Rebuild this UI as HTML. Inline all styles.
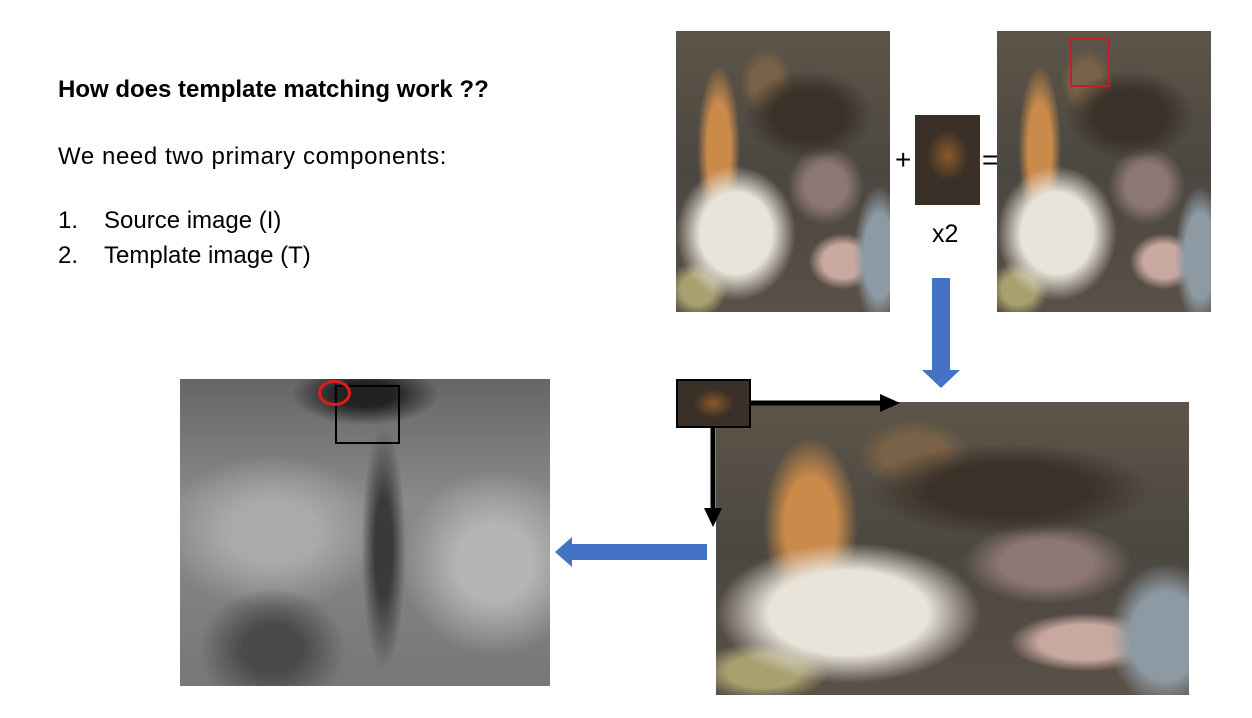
<!DOCTYPE html>
<html><head><style>
body{margin:0;width:1252px;height:718px;background:#fff;position:relative;overflow:hidden;font-family:"Liberation Sans",Calibri,sans-serif;color:#000}
.t{position:absolute;font-size:24px;white-space:nowrap}
.ph{position:absolute;background:
radial-gradient(ellipse 28% 24% at 28% 72%,#e9e4da 0 60%,rgba(233,228,218,0) 100%),
radial-gradient(ellipse 10% 30% at 20% 42%,#c98a4a 0 55%,rgba(201,138,74,0) 100%),
radial-gradient(ellipse 30% 16% at 62% 30%,#3a3128 0 55%,rgba(58,49,40,0) 100%),
radial-gradient(ellipse 12% 12% at 42% 18%,#7a6248 0 55%,rgba(122,98,72,0) 100%),
radial-gradient(ellipse 12% 25% at 95% 80%,#8d9aa3 0 60%,rgba(141,154,163,0) 100%),
radial-gradient(ellipse 16% 10% at 78% 82%,#c9a8a0 0 60%,rgba(201,168,160,0) 100%),
radial-gradient(ellipse 18% 14% at 70% 55%,#8c7772 0 55%,rgba(140,119,114,0) 100%),
radial-gradient(ellipse 14% 10% at 10% 92%,#a9a070 0 55%,rgba(169,160,112,0) 100%),
linear-gradient(180deg,#5d5548,#4b4741 50%,#5a5046);}
.gray{position:absolute;left:180px;top:379px;width:370px;height:307px;background:
radial-gradient(ellipse 20% 10% at 50% 5%,#222 0 40%,rgba(34,34,34,0) 100%),
radial-gradient(ellipse 6% 40% at 55% 55%,#3a3a3a 0 40%,rgba(58,58,58,0) 100%),
radial-gradient(ellipse 20% 20% at 25% 88%,#4a4a4a 0 40%,rgba(74,74,74,0) 100%),
radial-gradient(ellipse 25% 30% at 85% 60%,#b5b5b5 0 40%,rgba(181,181,181,0) 100%),
radial-gradient(ellipse 30% 25% at 25% 50%,#aaa 0 40%,rgba(170,170,170,0) 100%),
linear-gradient(180deg,#666,#8a8a8a 40%,#777);}
</style></head><body>
<div class="t" style="left:58px;top:76px;font-weight:bold">How does template matching work ??</div>
<div class="t" style="left:58px;top:143px;letter-spacing:0.6px">We need two primary components:</div>
<div class="t" style="left:58px;top:207px">1.</div><div class="t" style="left:104px;top:207px">Source image (I)</div>
<div class="t" style="left:58px;top:242px">2.</div><div class="t" style="left:104px;top:242px">Template image (T)</div>

<div class="ph" style="left:676px;top:31px;width:214px;height:281px"></div>
<div class="ph" style="left:997px;top:31px;width:214px;height:281px"></div>
<div style="position:absolute;left:1070px;top:37px;width:36px;height:46px;border:2px solid #c0202a"></div>
<div class="t" style="left:895px;top:144px;font-size:28px">+</div>
<div style="position:absolute;left:915px;top:115px;width:65px;height:90px;background:radial-gradient(ellipse 40% 35% at 50% 45%,#8a5a2a,#3a3028 80%)"></div>
<div class="t" style="left:982px;top:144px;font-size:28px">=</div>
<div class="t" style="left:932px;top:220px;font-size:25px">x2</div>

<svg width="1252" height="718" style="position:absolute;left:0;top:0">
<polygon points="932,278 950,278 950,370 960,370 941,388 922,370 932,370" fill="#4472c4"/>
<polygon points="707,544 572,544 572,537 555,552 572,567 572,560 707,560" fill="#4472c4"/>
</svg>

<div class="ph" style="left:716px;top:402px;width:473px;height:293px"></div>
<div style="position:absolute;left:676px;top:379px;width:71px;height:45px;border:2px solid #000;background:radial-gradient(ellipse 35% 40% at 50% 50%,#8a5a2a,#3a3028 80%)"></div>
<svg width="1252" height="718" style="position:absolute;left:0;top:0">
<line x1="749" y1="403" x2="885" y2="403" stroke="#000" stroke-width="5"/>
<polygon points="880,394 900,403 880,412" fill="#000"/>
<line x1="713" y1="426" x2="713" y2="512" stroke="#000" stroke-width="5"/>
<polygon points="704,508 713,527 722,508" fill="#000"/>
</svg>

<div class="gray"></div>
<div style="position:absolute;left:335px;top:385px;width:65px;height:59px;border:2px solid #000;box-sizing:border-box"></div>
<div style="position:absolute;left:318px;top:380px;width:33px;height:26px;border:3px solid #e01b1b;border-radius:50%;box-sizing:border-box"></div>
</body></html>
